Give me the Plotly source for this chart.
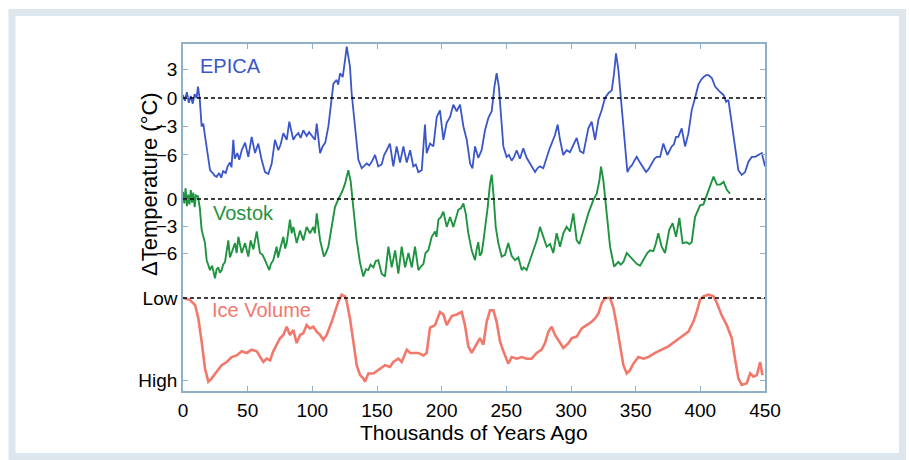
import plotly.graph_objects as go

# ---- data ----
epica_age = [0, 1.5, 3, 4.5, 6, 7.5, 9, 10.5, 11.6, 13, 14.4, 15.7, 17, 18.3, 19.5, 20.9, 23, 24.5, 26, 28,
             29.5, 31, 33, 34.5, 36.3, 37.5, 38.9, 40, 42, 43.5, 45.4, 48, 50.5, 53.1, 55.7, 58.2, 60.8, 63.4, 66, 68.6,
             71.1, 73.7, 75.5, 77.6, 80.2, 82.2, 85.3, 87, 89.2, 91, 93, 95.6, 97.5, 99.4, 102, 103.4, 106, 108, 110, 112.4,
             115, 116.3, 118.8, 120, 121.4, 123.5, 125.3, 126.6, 129.1, 130.4, 133, 135.6, 138.2, 140, 142, 144, 146, 148.5, 151, 153.6,
             155.5, 157.5, 160, 162.6, 165.2, 167.8, 170.4, 173, 175.6, 178.1, 180, 182, 184.6, 187.1, 188.4, 191, 193.6, 196.2, 198.7, 201.3,
             203.9, 206.5, 209, 211.6, 214.2, 216.8, 219.4, 222, 223.8, 225.8, 228.3, 230.9, 233.5, 236.1, 238.7, 240.8, 242.5, 244.2, 245.9, 247.7,
             250.2, 252, 254.1, 256, 258, 260.5, 263.1, 265.7, 268.3, 270, 272.2, 274, 276, 278.6, 281.2, 283, 285, 287.6, 289.7, 291.5,
             294, 296.6, 299.2, 301.8, 304.4, 307, 309.6, 313.4, 316, 318.6, 321.2, 323.7, 326.3, 328.9, 331.5, 333.3, 334.8, 336.6, 339.2, 341.8,
             343.6, 345.5, 347, 349, 350.8, 352.5, 354.7, 358, 360, 362.5, 364.5, 366.3, 368.9, 371.4, 374.5, 377.9, 379.5, 381.2, 383, 385.6,
             388.2, 390.8, 393.3, 395.9, 398.5, 400.5, 402.4, 404.5, 406.3, 408.9, 411.4, 414.8, 418, 419.9, 421.7, 424.3, 426.8, 429.4, 432, 434.6,
             437.2, 439.8, 442.4, 445, 447.5, 450]
epica_temp = [0.3, -0.3, 0.6, -0.5, 0.2, -0.6, 0.4, 0.0, 1.2, -0.2, -3.0, -2.7, -4.0, -5.1, -6.5, -7.6, -7.9, -8.2, -8.3, -7.9,
              -8.4, -7.7, -7.9, -7.2, -6.8, -7.3, -4.4, -6.4, -5.8, -6.5, -5.5, -4.7, -6.2, -4.1, -5.8, -4.8, -6.5, -7.8, -8.0, -6.9,
              -4.4, -5.5, -4.9, -3.7, -4.4, -2.5, -4.4, -4.0, -3.7, -4.2, -3.4, -4.0, -3.6, -3.9, -4.4, -2.7, -5.8, -5.1, -4.7, -3.0,
              0.1, 1.5, 1.9, 1.4, 2.6, 2.2, 4.0, 5.4, 3.3, 0.5, -3.0, -6.5, -7.4, -7.2, -6.9, -7.1, -6.7, -6.0, -7.2, -7.0,
              -6.0, -5.5, -4.8, -7.2, -5.1, -6.8, -5.1, -6.8, -5.5, -7.2, -7.0, -7.8, -7.6, -2.8, -5.8, -4.8, -5.1, -2.0, -1.3, -4.4,
              -2.6, -2.0, -0.7, -1.4, -0.7, -3.0, -4.4, -6.9, -7.4, -5.1, -6.3, -5.5, -3.4, -2.1, -1.4, 1.2, 2.6, 1.2, -2.3, -5.1,
              -6.2, -6.0, -6.6, -6.2, -5.5, -6.4, -5.3, -6.3, -6.9, -7.3, -7.8, -7.4, -7.2, -7.4, -6.2, -5.5, -4.8, -3.9, -2.8, -4.4,
              -6.0, -5.5, -5.7, -5.0, -4.2, -5.6, -5.8, -3.2, -2.5, -4.4, -2.3, -1.3, 0.0, 0.5, 0.8, 2.6, 4.7, 3.0, -0.9, -5.1,
              -7.8, -7.3, -7.1, -6.6, -6.2, -6.6, -7.1, -7.8, -7.5, -6.9, -6.4, -6.2, -6.2, -4.8, -6.0, -5.1, -4.9, -4.1, -4.1, -3.2,
              -5.1, -3.7, -1.3, 0.0, 1.4, 1.9, 2.2, 2.4, 2.4, 2.1, 1.2, 0.7, 0.3, -0.4, -0.2, -2.7, -5.1, -7.6, -8.1, -7.8,
              -6.7, -6.2, -6.2, -6.0, -5.8, -7.2]

vostok_age = [0, 1, 2, 3, 4, 5, 6, 7, 8, 9, 10, 11.6, 13, 14.4, 17, 18.3, 20.9, 22.5, 24.7, 26,
              27.3, 28.5, 29.9, 31, 32.5, 35, 36.3, 37.6, 40.2, 41.5, 42.8, 45.4, 48, 50.5, 52.3, 54.4, 57, 59.5, 61.5, 63.4,
              65, 66.7, 68, 69.8, 72.4, 73.5, 75, 77.6, 79, 80.2, 82.7, 84, 85.3, 87.9, 90.5, 93, 95.6, 98.2, 100.8, 102,
              103.4, 106, 109, 110.5, 112.4, 115, 117.5, 119.5, 121.4, 123, 125.3, 127.8, 129.6, 131.7, 134.3, 136.9, 139.4, 141.5, 143.3, 145,
              147.2, 149, 151, 153.6, 156.2, 158.8, 161.4, 164, 166.5, 169.1, 171.7, 174.3, 176.9, 179.4, 182, 184, 185.9, 187.5, 189.7, 192.3,
              194.9, 196, 197.5, 199.5, 201.3, 203.9, 206.5, 209, 211, 212.9, 215, 216.8, 218.6, 220.6, 223.2, 225.8, 227, 228.3, 229.5, 230.9,
              232, 233.5, 235.6, 237.4, 238.7, 240, 241.8, 243.8, 246.4, 249, 251.5, 254.1, 256.7, 259.3, 261.9, 263.5, 265.7, 268.3, 272.2, 274,
              276, 278.6, 281.2, 283.8, 286.3, 288.9, 291.5, 294.1, 296.6, 299.2, 301.8, 304.4, 306.5, 309.6, 313.4, 317.3, 319.9, 322, 323.2, 325,
              327.6, 330.2, 333.3, 336.6, 338.5, 340.5, 343.1, 345, 347, 350.8, 353.4, 355.5, 357.2, 359, 361.1, 363.7, 365.5, 367.5, 370.1, 372.7,
              376, 378.6, 381.2, 383.8, 386.3, 389.4, 391.5, 393.3, 395.9, 398, 399.8, 402.4, 405, 407.6, 410.2, 412.8, 415.4, 418, 420.6, 423]
vostok_temp = [0.8, -0.5, 1.2, -0.8, 0.5, -0.6, 1.0, -0.4, 0.7, -0.9, 0.4, 0.3, -1.0, -3.4, -4.9, -6.8, -7.9, -7.4, -8.8, -7.8,
               -7.6, -8.2, -7.9, -7.3, -7.0, -4.6, -6.5, -6.0, -4.9, -6.0, -4.2, -6.0, -4.9, -6.4, -4.6, -5.6, -3.6, -6.0, -6.2, -6.8,
               -7.3, -7.9, -7.2, -6.8, -5.3, -6.5, -5.6, -4.2, -5.5, -4.9, -2.3, -3.8, -3.1, -4.9, -3.5, -4.6, -3.1, -3.8, -3.1, -3.8,
               -1.6, -4.6, -6.4, -6.0, -5.3, -3.1, -0.9, -0.2, 0.3, 0.8, 1.7, 3.2, 2.0, -0.9, -4.6, -7.1, -8.6, -7.8, -7.9, -7.3,
               -7.6, -6.9, -6.8, -8.3, -8.6, -5.3, -7.6, -5.7, -8.3, -5.3, -7.6, -6.0, -7.6, -5.3, -7.9, -7.5, -7.2, -6.0, -5.7, -4.2,
               -3.6, -4.2, -2.3, -2.0, -1.4, -3.1, -2.0, -3.1, -2.0, -1.2, -1.0, -0.5, -1.6, -3.8, -5.7, -6.8, -5.6, -4.8, -6.3, -6.0,
               -5.0, -3.4, -0.9, 1.7, 2.7, 0.6, -3.1, -4.9, -6.4, -6.2, -4.9, -6.3, -6.8, -6.5, -7.9, -7.6, -7.9, -6.8, -5.3, -4.4,
               -3.1, -4.2, -5.3, -5.0, -6.0, -3.8, -5.3, -3.8, -3.1, -3.6, -1.6, -4.6, -5.0, -3.5, -1.6, -0.1, 0.6, 2.1, 3.6, 2.1,
               -1.6, -5.3, -7.5, -7.0, -7.3, -7.0, -6.0, -6.3, -6.5, -7.2, -7.4, -6.9, -6.4, -6.0, -5.7, -5.8, -5.0, -3.8, -5.3, -6.0,
               -3.4, -2.7, -4.2, -2.1, -4.9, -4.8, -5.0, -4.8, -2.0, -1.2, -0.7, -0.6, 0.4, 1.5, 2.5, 1.6, 1.6, 1.9, 1.0, 0.6]

# relative ice volume: 0 = Low, 1 = High
ice_age = [0, 5, 9.3, 11.9, 14.4, 17, 19.6, 22.2, 26, 29.9, 33.8, 37.6, 41.5, 45.4, 49.3, 53.1, 57, 59.5, 62.1, 64.7,
           67.3, 69.8, 72.4, 75, 77.6, 80.2, 82.7, 85.3, 87.9, 90.5, 93, 95.6, 98.2, 100.8, 103.4, 106, 108.5, 111.1, 115, 117.5,
           120.1, 122.7, 125.3, 126.6, 129.1, 131.7, 134.3, 136.9, 139.4, 140.7, 143.3, 147.2, 152.3, 156.2, 160, 162.6, 166.5, 169.1, 173, 175.6,
           178.1, 182, 185.9, 188.4, 191, 194.9, 198.7, 201.3, 203.9, 207.8, 211.6, 215.5, 218, 220.6, 223.2, 227.1, 229.6, 232.2, 234.8, 237.4,
           240, 242.5, 245.1, 247.7, 251.5, 254.1, 258, 261.9, 265.7, 269.6, 273.5, 277.3, 279.9, 282.5, 285.1, 287.6, 291.5, 294.1, 298, 300.5,
           304.4, 308.3, 312.1, 316, 318.6, 321.2, 323.8, 326.3, 330.2, 332.8, 335.3, 337.9, 340.5, 343.1, 345.6, 348.2, 352.1, 356, 359.8, 365,
           370.1, 375.3, 380.4, 385.6, 390.8, 394.6, 397.2, 399.8, 402.4, 406.3, 410.2, 412.8, 416.5, 420.4, 424.3, 426.8, 429.4, 432, 435.9, 438.5,
           441.1, 443.7, 446.3, 448]
ice_volume = [0.0, 0.02, 0.085, 0.25, 0.53, 0.86, 1.02, 0.98, 0.90, 0.82, 0.78, 0.72, 0.70, 0.65, 0.67, 0.63, 0.65, 0.72, 0.78, 0.74,
              0.76, 0.65, 0.57, 0.49, 0.45, 0.35, 0.45, 0.39, 0.55, 0.45, 0.43, 0.33, 0.37, 0.35, 0.41, 0.45, 0.51, 0.45, 0.29, 0.16,
              0.045, -0.04, -0.02, 0.045, 0.25, 0.53, 0.82, 0.94, 0.98, 1.02, 0.92, 0.92, 0.86, 0.82, 0.84, 0.78, 0.74, 0.78, 0.63, 0.67,
              0.67, 0.67, 0.70, 0.67, 0.36, 0.33, 0.17, 0.20, 0.33, 0.22, 0.20, 0.17, 0.33, 0.59, 0.67, 0.57, 0.49, 0.57, 0.29, 0.15,
              0.15, 0.29, 0.53, 0.65, 0.80, 0.72, 0.74, 0.72, 0.74, 0.74, 0.67, 0.63, 0.55, 0.41, 0.35, 0.45, 0.55, 0.61, 0.55, 0.49,
              0.47, 0.37, 0.33, 0.29, 0.25, 0.19, 0.06, 0.0, 0.0, 0.12, 0.33, 0.57, 0.82, 0.92, 0.88, 0.80, 0.72, 0.74, 0.72, 0.67,
              0.63, 0.59, 0.53, 0.47, 0.41, 0.29, 0.17, 0.02, -0.02, -0.04, -0.02, 0.06, 0.21, 0.33, 0.49, 0.74, 0.98, 1.06, 1.04, 0.92,
              0.96, 0.94, 0.78, 0.94]

x_ticks = [0, 50, 100, 150, 200, 250, 300, 350, 400, 450]
epica_ticks = [3, 0, -3, -6]
vostok_ticks = [0, -3, -6]
ice_ticks = [0, 1]
ice_ticktext = ["Low", "High"]

# ---- style ----
FONT = "Liberation Sans, Arial, Helvetica, sans-serif"
AXC = "#8fb0c8"
C_EPICA = "#3a56c8"
C_VOSTOK = "#1f9440"
C_ICE = "#f2786c"

fig = go.Figure()
fig.add_trace(go.Scatter(x=epica_age, y=epica_temp, mode="lines", yaxis="y",
                         line=dict(color=C_EPICA, width=1.8), showlegend=False))
fig.add_trace(go.Scatter(x=vostok_age, y=vostok_temp, mode="lines", yaxis="y2",
                         line=dict(color=C_VOSTOK, width=1.9), showlegend=False))
fig.add_trace(go.Scatter(x=ice_age, y=ice_volume, mode="lines", yaxis="y3",
                         line=dict(color=C_ICE, width=2.6), showlegend=False))

common_y = dict(showgrid=False, zeroline=False, showline=True, linecolor=AXC, linewidth=1.5,
                ticks="inside", ticklen=5, tickcolor=AXC, mirror="ticks",
                tickfont=dict(family=FONT, size=19, color="black"), fixedrange=True)

fig.update_layout(
    width=909, height=460,
    margin=dict(l=183, r=144, t=44, b=69),
    paper_bgcolor="white", plot_bgcolor="white",
    xaxis=dict(range=[0, 450], tickvals=x_ticks, showgrid=False, zeroline=False, showline=True,
               linecolor=AXC, linewidth=1.5, ticks="inside", ticklen=5, tickcolor=AXC, mirror="ticks",
               tickfont=dict(family=FONT, size=19, color="black"), ticklabelstandoff=1),
    yaxis=dict(range=[-30.84, 5.68], tickvals=epica_ticks, **common_y),
    yaxis2=dict(range=[-21.33, 17.22], tickvals=vostok_ticks, overlaying="y", side="left", **common_y),
    yaxis3=dict(range=[1.134, -3.098], tickvals=ice_ticks, ticktext=ice_ticktext,
                overlaying="y", side="left", **common_y),
)

dash = dict(color="black", width=1.6, dash="4px,3px")
fig.add_shape(type="line", xref="paper", x0=0, x1=1, yref="y", y0=0, y1=0, line=dash)
fig.add_shape(type="line", xref="paper", x0=0, x1=1, yref="y2", y0=0, y1=0, line=dash)
fig.add_shape(type="line", xref="paper", x0=0, x1=1, yref="y3", y0=0, y1=0, line=dash)

# outer light frame
fig.add_shape(type="rect", xref="paper", yref="paper",
              x0=(12 - 183) / 582, x1=(902.5 - 183) / 582,
              y0=(391 - 456.5) / 347, y1=(391 - 12.5) / 347,
              line=dict(color="#dde6ec", width=7), fillcolor="rgba(0,0,0,0)", layer="below")

# labels
fig.add_annotation(text="EPICA", xref="paper", yref="paper", x=(198 - 183) / 582, y=(391 - 66) / 347,
                   xanchor="left", yanchor="middle", showarrow=False,
                   font=dict(family=FONT, size=20, color=C_EPICA))
fig.add_annotation(text="Vostok", xref="paper", yref="paper", x=(211 - 183) / 582, y=(391 - 213) / 347,
                   xanchor="left", yanchor="middle", showarrow=False,
                   font=dict(family=FONT, size=20, color=C_VOSTOK))
fig.add_annotation(text="Ice Volume", xref="paper", yref="paper", x=(210 - 183) / 582, y=(391 - 310) / 347,
                   xanchor="left", yanchor="middle", showarrow=False,
                   font=dict(family=FONT, size=20, color=C_ICE))
fig.add_annotation(text="ΔTemperature (°C)", xref="paper", yref="paper", x=(149 - 183) / 582,
                   y=(391 - 184) / 347, xanchor="center", yanchor="middle", textangle=-90,
                   showarrow=False, font=dict(family=FONT, size=22, color="black"))
fig.add_annotation(text="Thousands of Years Ago", xref="paper", yref="paper", x=0.5,
                   y=(391 - 432) / 347, xanchor="center", yanchor="middle", showarrow=False,
                   font=dict(family=FONT, size=21, color="black"))

fig.write_html("out.html", config={"displayModeBar": False},
               post_script="document.body.style.margin='0px';document.body.style.overflow='hidden';")
